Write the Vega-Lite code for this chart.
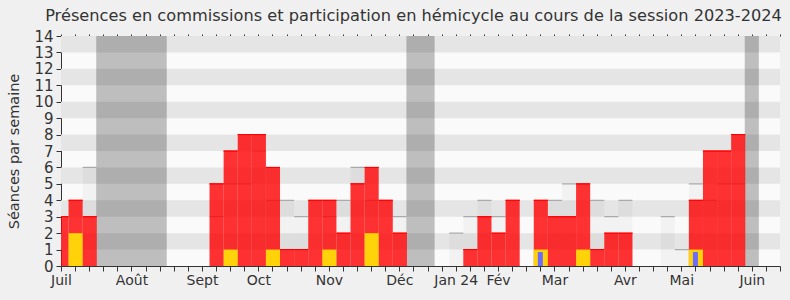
{
  "$schema": "https://vega.github.io/schema/vega-lite/v6.json",
  "width": 719,
  "height": 230,
  "autosize": {"type": "none"},
  "padding": {"left": 61, "top": 36, "right": 10, "bottom": 34},
  "background": "#f0f0f0",
  "config": {
    "font": "DejaVu Sans",
    "view": {"fill": "#fafafa", "stroke": null},
    "scale": {"continuousPadding": 0},
    "axisX": {"values": [0,1,2,3,4,5,6,7,8,9,10,11,12,13,14,15,16,17,18,19,20,21,22,23,24,25,26,27,28,29,30,31,32,33,34,35,36,37,38,39,40,41,42,43,44,45,46,47,48,49,50,51],
              "labelExpr": "['Juil','','','','','Août','','','','','Sept','','','','Oct','','','','','Nov','','','','','Déc','','','','Jan 24','','','Fév','','','','Mar','','','','','Avr','','','','Mai','','','','','Juin','',''][datum.value]",
              "labelFlush": false, "labelOverlap": false, "labelFontSize": 14, "tickSize": 5, "labelPadding": 2, "title": null},
    "axisY": {"values": [0,1,2,3,4,5,6,7,8,9,10,11,12,13,14], "tickCount": 14, "labelOverlap": false, "labelFontSize": 15, "tickSize": 5, "labelPadding": 3, "titlePadding": 12, "titleFontSize": 14.5, "titleFontWeight": "normal"},
    "axis": {"labelColor": "#333333", "titleColor": "#333333", "domainColor": "#333333", "tickColor": "#333333", "grid": false}
  },
  "title": {"text": "Présences en commissions et participation en hémicycle au cours de la session 2023-2024", "fontSize": 16.2, "fontWeight": "normal", "color": "#333333", "anchor": "middle", "offset": 5, "dx": -7},
  "datasets": {
    "bandes": [
      {"bas": 1, "haut": 2}, {"bas": 3, "haut": 4}, {"bas": 5, "haut": 6}, {"bas": 7, "haut": 8},
      {"bas": 9, "haut": 10}, {"bas": 11, "haut": 12}, {"bas": 13, "haut": 14}
    ],
    "vacances": [
      {"debut": 2.5, "fin": 7.5},
      {"debut": 24.5, "fin": 26.5},
      {"debut": 48.5, "fin": 49.5}
    ],
    "semaines": [
      {"semaine": 0, "commission": 3, "hemicycle": null, "question": null, "mediane": null},
      {"semaine": 1, "commission": 4, "hemicycle": 2, "question": null, "mediane": null},
      {"semaine": 2, "commission": 3, "hemicycle": null, "question": null, "mediane": 6},
      {"semaine": 11, "commission": 5, "hemicycle": null, "question": null, "mediane": 3},
      {"semaine": 12, "commission": 7, "hemicycle": 1, "question": null, "mediane": 5},
      {"semaine": 13, "commission": 8, "hemicycle": null, "question": null, "mediane": 5},
      {"semaine": 14, "commission": 8, "hemicycle": null, "question": null, "mediane": 7},
      {"semaine": 15, "commission": 6, "hemicycle": 1, "question": null, "mediane": 4},
      {"semaine": 16, "commission": 1, "hemicycle": null, "question": null, "mediane": 4},
      {"semaine": 17, "commission": 1, "hemicycle": null, "question": null, "mediane": 3},
      {"semaine": 18, "commission": 4, "hemicycle": null, "question": null, "mediane": null},
      {"semaine": 19, "commission": 4, "hemicycle": 1, "question": null, "mediane": 3},
      {"semaine": 20, "commission": 2, "hemicycle": null, "question": null, "mediane": 4},
      {"semaine": 21, "commission": 5, "hemicycle": null, "question": null, "mediane": 6},
      {"semaine": 22, "commission": 6, "hemicycle": 2, "question": null, "mediane": 4},
      {"semaine": 23, "commission": 4, "hemicycle": null, "question": null, "mediane": null},
      {"semaine": 24, "commission": 2, "hemicycle": null, "question": null, "mediane": 3},
      {"semaine": 28, "commission": null, "hemicycle": null, "question": null, "mediane": 2},
      {"semaine": 29, "commission": 1, "hemicycle": null, "question": null, "mediane": 3},
      {"semaine": 30, "commission": 3, "hemicycle": null, "question": null, "mediane": 4},
      {"semaine": 31, "commission": 2, "hemicycle": null, "question": null, "mediane": 3},
      {"semaine": 32, "commission": 4, "hemicycle": null, "question": null, "mediane": null},
      {"semaine": 34, "commission": 4, "hemicycle": 1, "question": 0.85, "mediane": null},
      {"semaine": 35, "commission": 3, "hemicycle": null, "question": null, "mediane": 4},
      {"semaine": 36, "commission": 3, "hemicycle": null, "question": null, "mediane": 5},
      {"semaine": 37, "commission": 5, "hemicycle": 1, "question": null, "mediane": null},
      {"semaine": 38, "commission": 1, "hemicycle": null, "question": null, "mediane": 4},
      {"semaine": 39, "commission": 2, "hemicycle": null, "question": null, "mediane": 3},
      {"semaine": 40, "commission": 2, "hemicycle": null, "question": null, "mediane": 4},
      {"semaine": 43, "commission": null, "hemicycle": null, "question": null, "mediane": 3},
      {"semaine": 44, "commission": null, "hemicycle": null, "question": null, "mediane": 1},
      {"semaine": 45, "commission": 4, "hemicycle": 1, "question": 0.85, "mediane": 5},
      {"semaine": 46, "commission": 7, "hemicycle": null, "question": null, "mediane": 4},
      {"semaine": 47, "commission": 7, "hemicycle": null, "question": null, "mediane": 5},
      {"semaine": 48, "commission": 8, "hemicycle": null, "question": null, "mediane": 5}
    ]
  },
  "resolve": {"axis": {"x": "independent"}},
  "layer": [
    {
      "data": {"name": "bandes"},
      "mark": {"type": "rect", "color": "#e5e5e5"},
      "encoding": {
        "y": {"field": "bas", "type": "quantitative", "scale": {"domain": [0, 14]}, "title": "Séances par semaine"},
        "y2": {"field": "haut"}
      }
    },
    {
      "data": {"name": "vacances"},
      "mark": {"type": "rect", "color": "#000000", "opacity": 0.24},
      "encoding": {
        "x": {"field": "debut", "type": "quantitative", "scale": {"domain": [0, 51], "padding": 0},
              "axis": {"orient": "top", "labels": false, "domain": false, "tickSize": 2}},
        "x2": {"field": "fin"}
      }
    },
    {
      "data": {"name": "semaines"},
      "mark": {"type": "bar", "color": "#000000", "opacity": 0.03, "binSpacing": 0, "clip": true},
      "encoding": {
        "x": {"field": "semaine", "type": "quantitative", "bin": {"step": 1, "anchor": 0.5, "extent": [-0.5, 51.5], "nice": false}, "scale": {"domain": [0, 51], "padding": 0}, "axis": null},
        "y": {"field": "mediane", "type": "quantitative", "stack": null, "title": "Séances par semaine"}
      }
    },
    {
      "data": {"name": "semaines"},
      "mark": {"type": "bar", "filled": false, "color": "#aaaaaa", "strokeWidth": 1.2, "binSpacing": 0, "clip": true},
      "encoding": {
        "x": {"field": "semaine", "type": "quantitative", "bin": {"step": 1, "anchor": 0.5, "extent": [-0.5, 51.5], "nice": false}, "scale": {"domain": [0, 51], "padding": 0}, "axis": null},
        "y": {"field": "mediane", "type": "quantitative", "title": "Séances par semaine"},
        "y2": {"field": "mediane"}
      }
    },
    {
      "data": {"name": "semaines"},
      "mark": {"type": "bar", "color": "#ff0000", "opacity": 0.8, "binSpacing": 0, "clip": true},
      "encoding": {
        "x": {"field": "semaine", "type": "quantitative", "bin": {"step": 1, "anchor": 0.5, "extent": [-0.5, 51.5], "nice": false}, "scale": {"domain": [0, 51], "padding": 0}, "axis": null},
        "y": {"field": "commission", "type": "quantitative", "stack": null, "title": "Séances par semaine"}
      }
    },
    {
      "data": {"name": "semaines"},
      "mark": {"type": "bar", "filled": false, "color": "#ff0000", "strokeWidth": 1, "binSpacing": 0, "clip": true},
      "encoding": {
        "x": {"field": "semaine", "type": "quantitative", "bin": {"step": 1, "anchor": 0.5, "extent": [-0.5, 51.5], "nice": false}, "scale": {"domain": [0, 51], "padding": 0}, "axis": null},
        "y": {"field": "commission", "type": "quantitative", "title": "Séances par semaine"},
        "y2": {"field": "commission"}
      }
    },
    {
      "data": {"name": "semaines"},
      "mark": {"type": "bar", "color": "#ffd20a", "binSpacing": 0, "clip": true},
      "encoding": {
        "x": {"field": "semaine", "type": "quantitative", "bin": {"step": 1, "anchor": 0.5, "extent": [-0.5, 51.5], "nice": false}, "scale": {"domain": [0, 51], "padding": 0}, "axis": null},
        "y": {"field": "hemicycle", "type": "quantitative", "stack": null, "title": "Séances par semaine"}
      }
    },
    {
      "data": {"name": "semaines"},
      "mark": {"type": "bar", "color": "#6b6bff", "size": 5},
      "encoding": {
        "x": {"field": "semaine", "type": "quantitative", "scale": {"domain": [0, 51], "padding": 0}, "axis": {"orient": "bottom"}},
        "y": {"field": "question", "type": "quantitative", "stack": null, "title": "Séances par semaine"}
      }
    }
  ]
}
